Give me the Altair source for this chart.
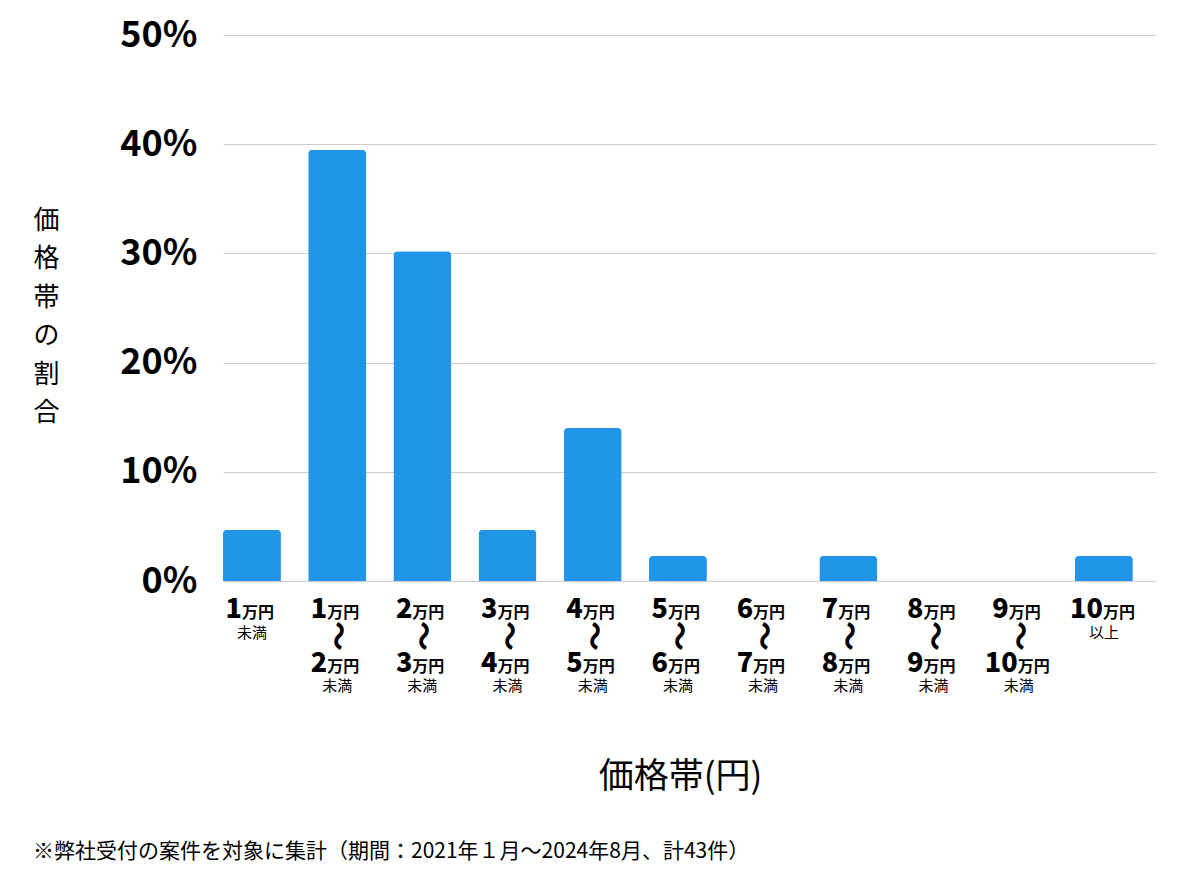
import altair as alt
import pandas as pd

categories = ["1万円未満", "1〜2万円", "2〜3万円", "3〜4万円", "4〜5万円", "5〜6万円",
              "6〜7万円", "7〜8万円", "8〜9万円", "9〜10万円", "10万円以上"]
shares = [4.7, 39.5, 30.2, 4.7, 14.0, 2.3, 0.0, 2.3, 0.0, 0.0, 2.3]
top_num = ["1", "1", "2", "3", "4", "5", "6", "7", "8", "9", "10"]
bottom_num = ["", "2", "3", "4", "5", "6", "7", "8", "9", "10", ""]
row1_note = ["未満", "", "", "", "", "", "", "", "", "", "以上"]
row2_note = ["", "未満", "未満", "未満", "未満", "未満", "未満", "未満", "未満", "未満", ""]
y_ticks = [0, 10, 20, 30, 40, 50]

FONT = "Noto Sans CJK JP"
BAR = "#2196e8"

df = pd.DataFrame({
    "cat": categories,
    "share": shares,
    "top": top_num,
    "bottom": bottom_num,
    "note1": row1_note,
    "note2": row2_note,
})
df["unit_top"] = "万円"
df["unit_bottom"] = ["万円" if b else "" for b in bottom_num]
df["wave"] = ["〜" if b else "" for b in bottom_num]

xscale = alt.Scale(domain=categories, paddingInner=0.32, paddingOuter=0.13, align=0)
yscale = alt.Scale(domain=[0, 50], nice=False)

x_axis = alt.Axis(labels=False, ticks=False, domain=False, grid=False,
                  title="価格帯(円)", titleFont=FONT, titleFontSize=35,
                  titleFontWeight="normal", titleColor="#000000",
                  titleX=457, titleY=195, titleAlign="center",
                  titleBaseline="middle")

bars = alt.Chart(df).mark_bar(color=BAR, cornerRadiusTopLeft=4, cornerRadiusTopRight=4).encode(
    x=alt.X("cat:N", scale=xscale, sort=categories, axis=x_axis),
    y=alt.Y("share:Q", scale=yscale,
            axis=alt.Axis(values=y_ticks, labelExpr="datum.value + '%'",
                          labelFont=FONT, labelFontSize=36, labelFontWeight="bold",
                          labelColor="#000000", labelPadding=26, ticks=False, domain=False,
                          gridColor="#cccccc", gridWidth=1,
                          title=["価", "格", "帯", "の", "割", "合"],
                          titleFont=FONT, titleFontSize=26, titleFontWeight="normal",
                          titleColor="#000000", titleAngle=0, titleLineHeight=38.5,
                          titleX=-177, titleY=185, titleAlign="center",
                          titleBaseline="middle")),
)

base = alt.Chart(df).encode(x=alt.X("cat:N", scale=xscale, sort=categories, axis=x_axis),
                            y=alt.datum(0))


def num_layer(field, length, dy, dx):
    return base.transform_filter(f"length(datum.{field}) == {length}").mark_text(
        font=FONT, fontSize=27, fontWeight=900, align="right", baseline="alphabetic",
        dx=dx, dy=dy, color="#000000").encode(text=f"{field}:N")


def unit_layer(field, lenfield, length, dy, dx):
    return base.transform_filter(f"length(datum.{lenfield}) == {length}").mark_text(
        font=FONT, fontSize=16, fontWeight="bold", align="left", baseline="alphabetic",
        dx=dx, dy=dy, color="#000000").encode(text=f"{field}:N")


J1, J2 = -10, -1
TOP_DY, BOT_DY = 37, 91

layers = [bars]
layers.append(num_layer("top", 1, TOP_DY, J1))
layers.append(num_layer("top", 2, TOP_DY, J2))
layers.append(unit_layer("unit_top", "top", 1, TOP_DY, J1))
layers.append(unit_layer("unit_top", "top", 2, TOP_DY, J2))
layers.append(num_layer("bottom", 1, BOT_DY, J1))
layers.append(num_layer("bottom", 2, BOT_DY, J2))
layers.append(unit_layer("unit_bottom", "bottom", 1, BOT_DY, J1))
layers.append(unit_layer("unit_bottom", "bottom", 2, BOT_DY, J2))

layers.append(base.mark_text(font=FONT, fontSize=15, align="center", baseline="alphabetic",
                             dy=57, color="#000000").encode(text="note1:N"))
layers.append(base.mark_text(font=FONT, fontSize=15, align="center", baseline="alphabetic",
                             dy=110, color="#000000").encode(text="note2:N"))
layers.append(base.mark_text(font=FONT, fontSize=30, fontWeight="bold", align="center",
                             baseline="middle", angle=90, dx=55, color="#000000").encode(text="wave:N"))

chart = alt.layer(*layers).properties(
    width=932, height=546,
    autosize="none",
    background="#ffffff",
    padding={"left": 215, "top": 27, "right": 37, "bottom": 285},
    title=alt.TitleParams(
        text="※弊社受付の案件を対象に集計（期間：2021年１月〜2024年8月、計43件）",
        orient="bottom", anchor="start", frame="group", dx=-190, offset=47,
        font=FONT, fontSize=21, fontWeight="normal", color="#000000"),
).configure_view(strokeWidth=0)

chart.save("out.html", embed_options={"renderer": "svg", "actions": False})
